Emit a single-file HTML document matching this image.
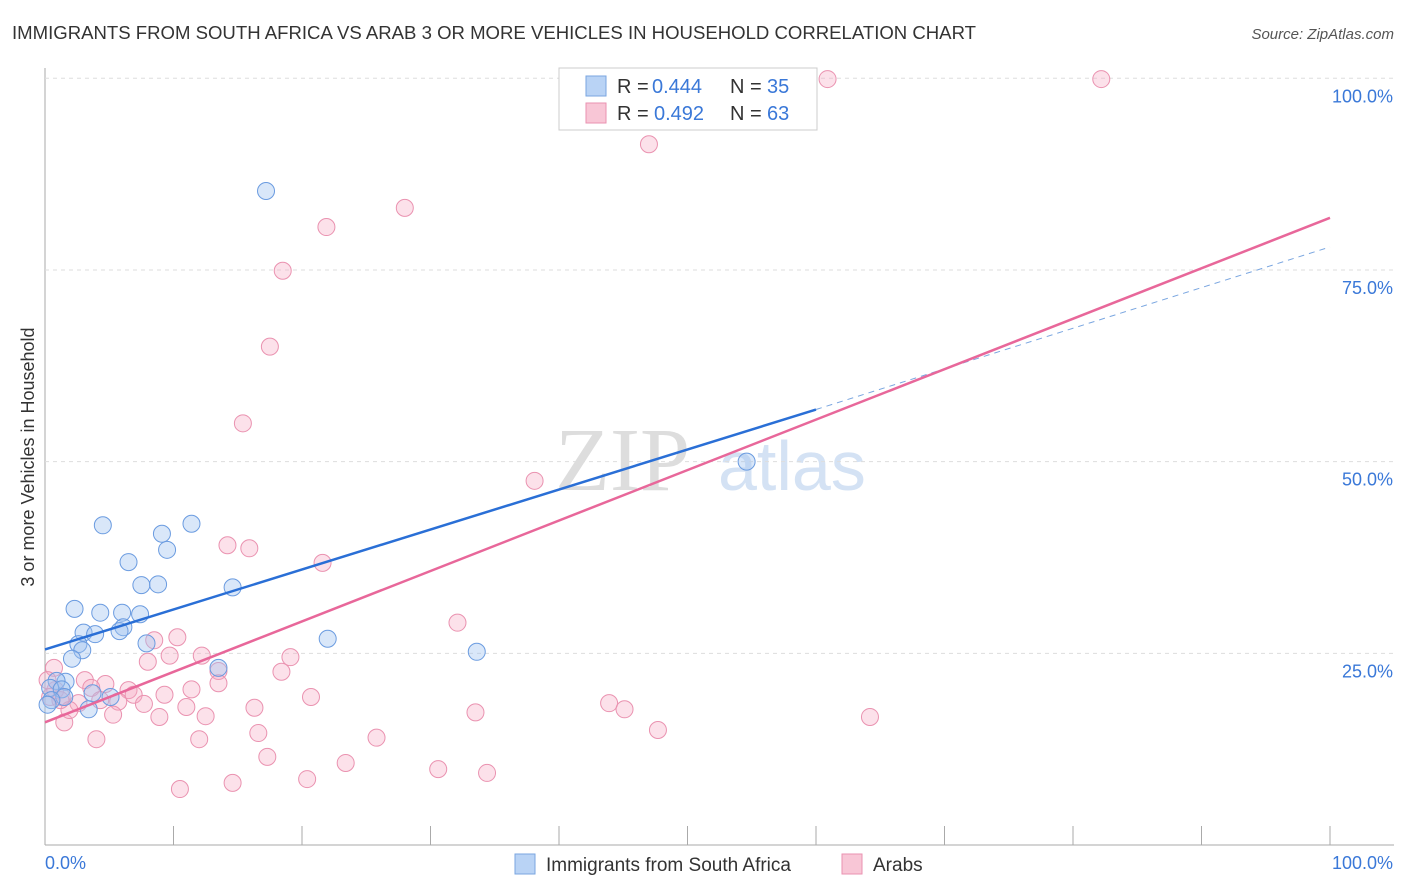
<!DOCTYPE html>
<html><head><meta charset="utf-8"><style>
body{margin:0;background:#fff;font-family:"Liberation Sans",sans-serif}
svg{display:block}
</style></head><body>
<svg id="c" width="1406" height="892">
<text x="12" y="39" font-size="18" fill="#333" textLength="964" lengthAdjust="spacingAndGlyphs">IMMIGRANTS FROM SOUTH AFRICA VS ARAB 3 OR MORE VEHICLES IN HOUSEHOLD CORRELATION CHART</text>
<text x="1394" y="39" font-size="15" fill="#555" font-style="italic" text-anchor="end">Source: ZipAtlas.com</text>
<text transform="translate(34,457) rotate(-90)" font-size="18" fill="#333" text-anchor="middle">3 or more Vehicles in Household</text>
<text x="555" y="490" font-size="90" fill="#ddd" font-family="Liberation Serif">ZIP</text>
<text x="718" y="490" font-size="70" fill="#d4e2f4">atlas</text>
<g id="grid"></g><g id="pts"></g><g id="lines"></g>
<g>
<rect x="559" y="68" width="258" height="62" fill="#fff" stroke="#ccc"/>
<rect x="586" y="76" width="20" height="20" fill="#b9d3f5" stroke="#7aa6e0"/>
<rect x="586" y="103" width="20" height="20" fill="#f8c6d6" stroke="#ea92b0"/>
<text x="617" y="93" font-size="20" fill="#333">R =</text><text x="652" y="93" font-size="20" fill="#3a78d8">0.444</text>
<text x="730" y="93" font-size="20" fill="#333">N =</text><text x="767" y="93" font-size="20" fill="#3a78d8">35</text>
<text x="617" y="120" font-size="20" fill="#333">R =</text><text x="654" y="120" font-size="20" fill="#3a78d8">0.492</text>
<text x="730" y="120" font-size="20" fill="#333">N =</text><text x="767" y="120" font-size="20" fill="#3a78d8">63</text>
</g>
<g>
<rect x="515" y="854" width="20" height="20" fill="#b9d3f5" stroke="#7aa6e0"/>
<text x="546" y="871" font-size="19" fill="#333">Immigrants from South Africa</text>
<rect x="842" y="854" width="20" height="20" fill="#f8c6d6" stroke="#ea92b0"/>
<text x="873" y="871" font-size="19" fill="#333">Arabs</text>
</g>
</svg>
<script>
const yTicks=[25,50,75,100];
const xTickLabels=["0.0%","100.0%"];
const blueX=[17.2,4.5,11.4,9.1,9.5,6.5,7.5,8.8,14.6,2.3,4.3,6.0,7.4,6.1,5.8,3.0,3.9,7.9,2.6,2.9,2.1,13.5,22.0,33.6,54.6,1.6,0.9,0.4,1.3,3.7,5.1,1.5,3.4,0.5,0.2];
const blueY=[85.3,41.7,41.9,40.6,38.5,36.9,33.9,34.0,33.6,30.8,30.3,30.3,30.1,28.4,27.9,27.7,27.5,26.3,26.2,25.4,24.3,23.1,26.9,25.2,50.0,21.3,21.4,20.5,20.3,19.8,19.3,19.3,17.7,18.9,18.3];
const pinkX=[60.9,82.2,47.0,28.0,21.9,18.5,17.5,15.4,38.1,14.2,15.9,21.6,32.1,10.3,8.5,9.7,12.2,19.1,8.0,13.5,18.4,3.1,4.7,3.6,13.5,11.4,6.5,6.9,9.3,20.7,1.3,2.6,5.7,7.7,4.3,11.0,16.3,43.9,45.1,33.5,64.2,5.3,8.9,12.5,1.5,16.6,47.7,4.0,12.0,25.8,17.3,23.4,30.6,34.4,20.4,14.6,10.5,0.7,0.4,1.9,0.8,1.2,0.2];
const pinkY=[99.9,99.9,91.4,83.1,80.6,74.9,65.0,55.0,47.5,39.1,38.7,36.8,29.0,27.1,26.7,24.7,24.7,24.5,23.9,22.7,22.6,21.5,21.0,20.5,21.1,20.3,20.2,19.6,19.6,19.3,19.3,18.5,18.7,18.4,18.9,18.0,17.9,18.5,17.7,17.3,16.7,17.0,16.7,16.8,16.0,14.6,15.0,13.8,13.8,14.0,11.5,10.7,9.9,9.4,8.6,8.1,7.3,23.1,19.3,17.6,20.2,18.9,21.5];
const blueFit=[25.5,56.8], pinkFit=[16.0,81.8], blueDashEnd=78.0;
const X=v=>45+v*12.85, Y=v=>845-v*7.667;
const NS="http://www.w3.org/2000/svg";
function el(t,a,p){const e=document.createElementNS(NS,t);for(const k in a)e.setAttribute(k,a[k]);document.getElementById(p).appendChild(e);return e;}
let ax=el('line',{x1:45,y1:845,x2:1394,y2:845,stroke:'#aaa'},'grid');


let ay=el('line',{x1:45,y1:68,x2:45,y2:845,stroke:'#aaa'},'grid');


yTicks.forEach(t=>{
 const g=el('line',{x1:45,x2:1394,y1:Y(t),y2:Y(t),stroke:'#ddd','stroke-dasharray':'4,4'},'grid');
 
 
 const tx=el('text',{x:1393,y:Y(t)+24,'font-size':18,fill:'#3a78d8','text-anchor':'end'},'grid');
 tx.textContent=t.toFixed(1)+'%';
 
 
});
for(let i=1;i<=10;i++){const tk=el('line',{x1:X(i*10),x2:X(i*10),y1:826,y2:845,stroke:'#aaa'},'grid');
 
 }
[[0,'start'],[100,'end']].forEach((p,i)=>{const tx=el('text',{x:i?1393:45,y:869,'font-size':18,fill:'#3a78d8','text-anchor':p[1]},'grid');tx.textContent=xTickLabels[i];
 
 });
pinkX.forEach((x,i)=>{const c=el('circle',{cx:X(x),cy:Y(pinkY[i]),r:8.5,fill:'rgba(246,170,195,0.35)',stroke:'#ea92b0','stroke-width':1},'pts');
 
 });
blueX.forEach((x,i)=>{const c=el('circle',{cx:X(x),cy:Y(blueY[i]),r:8.5,fill:'rgba(160,196,240,0.4)',stroke:'#6a9be0','stroke-width':1},'pts');
 
 });
let bl=el('line',{x1:X(0),y1:Y(blueFit[0]),x2:X(60),y2:Y(blueFit[1]),stroke:'#2a6fd6','stroke-width':2.5},'lines');


let bd=el('line',{x1:X(60),y1:Y(blueFit[1]),x2:X(100),y2:Y(blueDashEnd),stroke:'#7aa6e0','stroke-width':1,'stroke-dasharray':'6,5'},'lines');


let pl=el('line',{x1:X(0),y1:Y(pinkFit[0]),x2:X(100),y2:Y(pinkFit[1]),stroke:'#e8679a','stroke-width':2.5},'lines');


</script>
</body></html>
